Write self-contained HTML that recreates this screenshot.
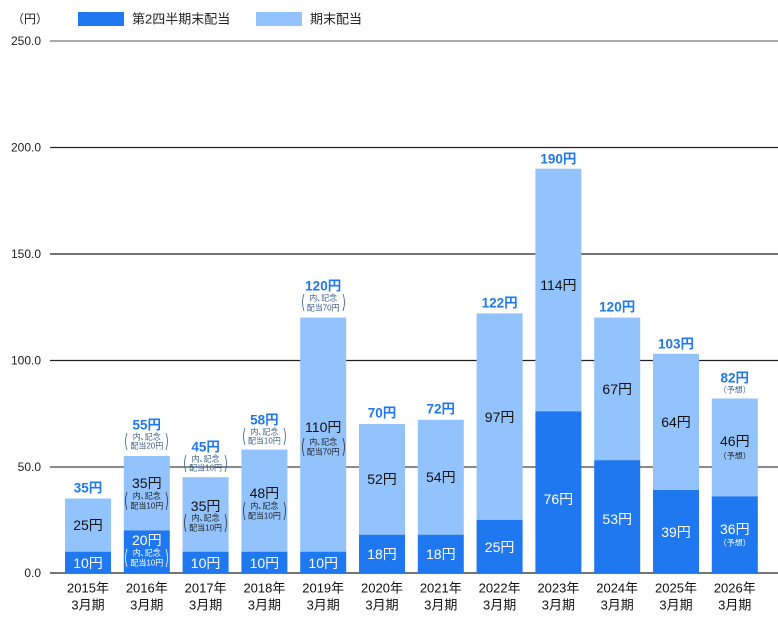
<!DOCTYPE html>
<html><head><meta charset="utf-8"><style>
html,body{margin:0;padding:0;background:#fff;}
svg{display:block;font-family:"Liberation Sans","Noto Sans CJK JP",sans-serif;}
.m{font-size:14px;text-anchor:middle;dominant-baseline:central;fill:#111;}
.w{fill:#fff;}
.t{font-size:13.5px;font-weight:bold;fill:#1f78f0;text-anchor:middle;dominant-baseline:central;}
.a{font-size:8px;text-anchor:middle;dominant-baseline:central;fill:#222;}
.aw{fill:#fff;}
.at{fill:#3b5f8f;}
.ax{font-size:12px;fill:#222;dominant-baseline:central;}
.xl{font-size:13px;fill:#111;text-anchor:middle;dominant-baseline:central;}
.p{fill:none;stroke:#333;stroke-width:0.8;}
.pw{stroke:#fff;}
.pt{stroke:#3b5f8f;}
</style></head><body>
<svg width="778" height="627" viewBox="0 0 778 627">
<text class="ax" x="12" y="19">（円）</text>
<rect x="78" y="12" width="46" height="14" fill="#1f78f0"/>
<text class="ax" x="132" y="19" style="font-size:13px">第2四半期末配当</text>
<rect x="256" y="12" width="46" height="14" fill="#92c3fc"/>
<text class="ax" x="310" y="19" style="font-size:13px">期末配当</text>
<g stroke-width="1.2">
<line x1="50" y1="41" x2="778" y2="41" stroke="#777"/>
<line x1="50" y1="147.5" x2="778" y2="147.5" stroke="#222"/>
<line x1="50" y1="254" x2="778" y2="254" stroke="#222"/>
<line x1="50" y1="360.5" x2="778" y2="360.5" stroke="#222"/>
<line x1="50" y1="467" x2="778" y2="467" stroke="#444"/>
<line x1="50" y1="573" x2="778" y2="573" stroke="#222"/>
</g>
<g class="ax" text-anchor="end">
<text x="41" y="41" text-anchor="end">250.0</text>
<text x="41" y="147.5" text-anchor="end">200.0</text>
<text x="41" y="254" text-anchor="end">150.0</text>
<text x="41" y="360.5" text-anchor="end">100.0</text>
<text x="41" y="467" text-anchor="end">50.0</text>
<text x="41" y="573" text-anchor="end">0.0</text>
</g>
<g fill="#92c3fc">
<rect x="65" y="498.5" width="46" height="53.2"/>
<rect x="123.8" y="456" width="46" height="74.4"/>
<rect x="182.6" y="477.2" width="46" height="74.5"/>
<rect x="241.4" y="449.6" width="46" height="102.1"/>
<rect x="300.2" y="317.6" width="46" height="234.1"/>
<rect x="359" y="424" width="46" height="110.7"/>
<rect x="417.8" y="419.8" width="46" height="114.9"/>
<rect x="476.6" y="313.4" width="46" height="206.4"/>
<rect x="535.4" y="168.7" width="46" height="242.6"/>
<rect x="594.2" y="317.6" width="46" height="142.6"/>
<rect x="653" y="353.8" width="46" height="136.2"/>
<rect x="711.8" y="398.5" width="46" height="97.9"/>
</g>
<g fill="#1f78f0">
<rect x="65" y="551.7" width="46" height="21.3"/>
<rect x="123.8" y="530.4" width="46" height="42.6"/>
<rect x="182.6" y="551.7" width="46" height="21.3"/>
<rect x="241.4" y="551.7" width="46" height="21.3"/>
<rect x="300.2" y="551.7" width="46" height="21.3"/>
<rect x="359" y="534.7" width="46" height="38.3"/>
<rect x="417.8" y="534.7" width="46" height="38.3"/>
<rect x="476.6" y="519.8" width="46" height="53.2"/>
<rect x="535.4" y="411.3" width="46" height="161.7"/>
<rect x="594.2" y="460.2" width="46" height="112.8"/>
<rect x="653" y="490" width="46" height="83"/>
<rect x="711.8" y="496.4" width="46" height="76.6"/>
</g>
<text class="t" x="88" y="488">35円</text>
<text class="t" x="146.8" y="425">55円</text>
<text class="a at" x="146.8" y="437">内､記念</text><text class="a at" x="146.8" y="446">配当20円</text>
<path class="p pt" d="M127,433 Q124,441 127,450 M166,433 Q169,441 166,450"/>
<text class="t" x="205.6" y="447">45円</text>
<text class="a at" x="205.6" y="459">内､記念</text><text class="a at" x="205.6" y="468">配当10円</text>
<path class="p pt" d="M186,455 Q183,463 186,472 M225,455 Q228,463 225,472"/>
<text class="t" x="264.4" y="420">58円</text>
<text class="a at" x="264.4" y="432">内､記念</text><text class="a at" x="264.4" y="441">配当10円</text>
<path class="p pt" d="M245,428 Q242,436 245,445 M284,428 Q287,436 284,445"/>
<text class="t" x="323.2" y="286">120円</text>
<text class="a at" x="323.2" y="298">内､記念</text><text class="a at" x="323.2" y="308">配当70円</text>
<path class="p pt" d="M304,294 Q301,302 304,311 M343,294 Q346,302 343,311"/>
<text class="t" x="382" y="413">70円</text>
<text class="t" x="440.8" y="409">72円</text>
<text class="t" x="499.6" y="303">122円</text>
<text class="t" x="558.4" y="159">190円</text>
<text class="t" x="617.2" y="307">120円</text>
<text class="t" x="676" y="344">103円</text>
<text class="t" x="734.8" y="378">82円</text>
<text class="a at" x="734.8" y="390">（予想）</text>
<text class="m" x="88" y="525">25円</text>
<text class="m" x="146.8" y="483">35円</text>
<text class="a" x="146.8" y="496">内､記念</text><text class="a" x="146.8" y="506">配当10円</text>
<path class="p" d="M127,492 Q124,501 127,510 M166,492 Q169,501 166,510"/>
<text class="m" x="205.6" y="506">35円</text>
<text class="a" x="205.6" y="518">内､記念</text><text class="a" x="205.6" y="528">配当10円</text>
<path class="p" d="M186,514 Q183,523 186,532 M225,514 Q228,523 225,532"/>
<text class="m" x="264.4" y="493">48円</text>
<text class="a" x="264.4" y="506">内､記念</text><text class="a" x="264.4" y="516">配当10円</text>
<path class="p" d="M245,502 Q242,511 245,520 M284,502 Q287,511 284,520"/>
<text class="m" x="323.2" y="427">110円</text>
<text class="a" x="323.2" y="442">内､記念</text><text class="a" x="323.2" y="452">配当70円</text>
<path class="p" d="M304,438 Q301,447 304,456 M343,438 Q346,447 343,456"/>
<text class="m" x="382" y="479">52円</text>
<text class="m" x="440.8" y="477">54円</text>
<text class="m" x="499.6" y="417">97円</text>
<text class="m" x="558.4" y="285">114円</text>
<text class="m" x="617.2" y="389">67円</text>
<text class="m" x="676" y="422">64円</text>
<text class="m" x="734.8" y="441">46円</text>
<text class="a" x="734.8" y="456">（予想）</text>
<text class="m w" x="88" y="563">10円</text>
<text class="m w" x="146.8" y="540">20円</text>
<text class="a aw" x="146.8" y="553">内､記念</text><text class="a aw" x="146.8" y="563">配当10円</text>
<path class="p pw" d="M127,549 Q124,558 127,567 M166,549 Q169,558 166,567"/>
<text class="m w" x="205.6" y="563">10円</text>
<text class="m w" x="264.4" y="563">10円</text>
<text class="m w" x="323.2" y="563">10円</text>
<text class="m w" x="382" y="554">18円</text>
<text class="m w" x="440.8" y="554">18円</text>
<text class="m w" x="499.6" y="547">25円</text>
<text class="m w" x="558.4" y="499">76円</text>
<text class="m w" x="617.2" y="519">53円</text>
<text class="m w" x="676" y="532">39円</text>
<text class="m w" x="734.8" y="529">36円</text>
<text class="a aw" x="734.8" y="543">（予想）</text>
<text class="xl" x="88" y="588">2015年</text><text class="xl" x="88" y="605">3月期</text>
<text class="xl" x="146.8" y="588">2016年</text><text class="xl" x="146.8" y="605">3月期</text>
<text class="xl" x="205.6" y="588">2017年</text><text class="xl" x="205.6" y="605">3月期</text>
<text class="xl" x="264.4" y="588">2018年</text><text class="xl" x="264.4" y="605">3月期</text>
<text class="xl" x="323.2" y="588">2019年</text><text class="xl" x="323.2" y="605">3月期</text>
<text class="xl" x="382" y="588">2020年</text><text class="xl" x="382" y="605">3月期</text>
<text class="xl" x="440.8" y="588">2021年</text><text class="xl" x="440.8" y="605">3月期</text>
<text class="xl" x="499.6" y="588">2022年</text><text class="xl" x="499.6" y="605">3月期</text>
<text class="xl" x="558.4" y="588">2023年</text><text class="xl" x="558.4" y="605">3月期</text>
<text class="xl" x="617.2" y="588">2024年</text><text class="xl" x="617.2" y="605">3月期</text>
<text class="xl" x="676" y="588">2025年</text><text class="xl" x="676" y="605">3月期</text>
<text class="xl" x="734.8" y="588">2026年</text><text class="xl" x="734.8" y="605">3月期</text>
</svg>
</body></html>
